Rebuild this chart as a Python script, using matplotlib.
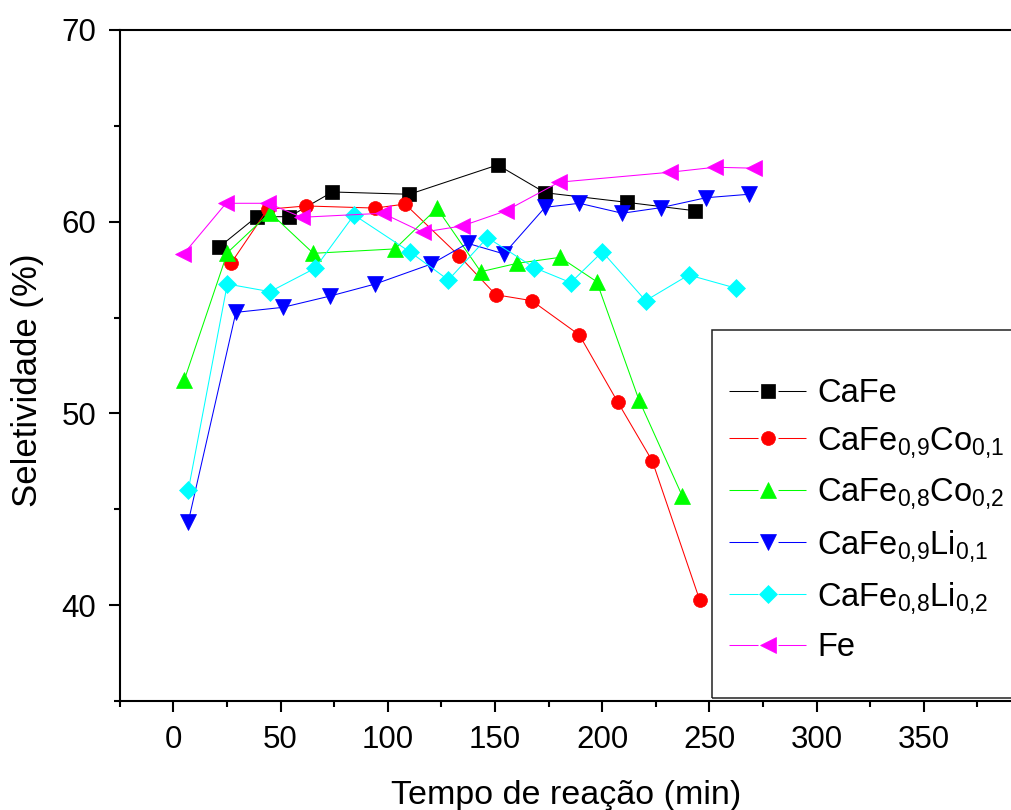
import matplotlib
matplotlib.use('Agg')
import matplotlib.pyplot as plt
from matplotlib.lines import Line2D
from matplotlib.legend_handler import HandlerTuple
from matplotlib.patches import Rectangle
from matplotlib.ticker import MultipleLocator

plt.rcParams['font.family'] = ['Liberation Sans', 'DejaVu Sans']
plt.rcParams['mathtext.fontset'] = 'custom'
plt.rcParams['mathtext.rm'] = 'Liberation Sans'
plt.rcParams['mathtext.it'] = 'Liberation Sans:italic'

# ----- data (time in min, selectivity in %)
cafe_t = [21.2, 38.9, 54.1, 74.2, 110.1, 151.3, 173.4, 211.5, 243.3]
cafe_s = [58.66, 60.26, 60.26, 61.55, 61.43, 62.96, 61.51, 61.01, 60.57]

co01_t = [26.9, 44.0, 61.9, 94.1, 108.1, 133.2, 150.4, 167.2, 189.4, 207.3, 223.4, 245.5]
co01_s = [57.83, 60.65, 60.82, 60.71, 60.92, 58.23, 56.19, 55.88, 54.09, 50.59, 47.52, 40.27]

co02_t = [5.1, 25.2, 45.1, 65.3, 103.4, 123.0, 143.4, 160.4, 180.4, 197.5, 217.2, 237.4]
co02_s = [51.73, 58.38, 60.47, 58.35, 58.58, 60.70, 57.39, 57.83, 58.14, 56.87, 50.70, 45.69]

li01_t = [7.0, 29.2, 51.0, 73.1, 94.2, 120.3, 137.3, 154.2, 173.4, 189.4, 209.4, 227.3, 248.5, 268.5]
li01_s = [44.35, 55.27, 55.53, 56.12, 56.75, 57.79, 58.87, 58.32, 60.75, 60.96, 60.44, 60.73, 61.25, 61.43]

li02_t = [7.0, 25.2, 45.1, 66.1, 84.3, 110.3, 128.3, 146.5, 168.4, 185.4, 200.1, 220.3, 240.4, 262.5]
li02_s = [46.0, 56.75, 56.35, 57.57, 60.35, 58.43, 56.96, 59.17, 57.60, 56.82, 58.43, 55.88, 57.22, 56.53]

fe_t = [4.7, 24.6, 44.3, 59.9, 97.7, 116.3, 134.8, 155.0, 179.9, 231.7, 252.7, 270.9]
fe_s = [58.30, 60.96, 60.96, 60.23, 60.44, 59.45, 59.78, 60.56, 62.06, 62.58, 62.84, 62.79]

labels = ['CaFe',
          r'CaFe$_{\mathregular{0{,}9}}$Co$_{\mathregular{0{,}1}}$',
          r'CaFe$_{\mathregular{0{,}8}}$Co$_{\mathregular{0{,}2}}$',
          r'CaFe$_{\mathregular{0{,}9}}$Li$_{\mathregular{0{,}1}}$',
          r'CaFe$_{\mathregular{0{,}8}}$Li$_{\mathregular{0{,}2}}$',
          'Fe']

series = [(cafe_t, cafe_s), (co01_t, co01_s), (co02_t, co02_s),
          (li01_t, li01_s), (li02_t, li02_s), (fe_t, fe_s)]
colours = ['#000000', '#FF0000', '#00FF00', '#0000FF', '#00FFFF', '#FF00FF']
markers = ['s', 'o', '^', 'v', 'D', '<']
sizes = [9.5, 10, 12, 12, 9, 12]

fig = plt.figure(figsize=(10.11, 8.10), dpi=100)
# axes run up to the right edge of the picture, as in the original
ax = fig.add_axes([0.1184, 0.1346, 0.8822, 0.8284])

lw = 0.75
for (t, s), c, m, ms in zip(series, colours, markers, sizes):
    ax.plot(t, s, color=c, lw=lw, marker=m, ms=ms, mec=c, mfc=c, mew=0.5)

ax.set_xlim(-25, 391)
ax.set_ylim(35, 70)
ax.xaxis.set_major_locator(MultipleLocator(50))
ax.xaxis.set_minor_locator(MultipleLocator(25))
ax.yaxis.set_major_locator(MultipleLocator(10))
ax.yaxis.set_minor_locator(MultipleLocator(5))

for side in ['left', 'bottom', 'top']:
    ax.spines[side].set_linewidth(1.5)
ax.spines['right'].set_visible(False)
ax.tick_params(which='major', direction='out', length=8, width=1.5,
               labelsize=22.5, pad=9)
ax.tick_params(which='minor', direction='out', length=4, width=1.5)
ax.tick_params(top=False, right=False)

ax.set_xlabel('Tempo de reação (min)', fontsize=24.5, labelpad=18)
ax.set_ylabel('Seletividade (%)', fontsize=25)
ax.yaxis.set_label_coords(-0.0853, 0.478)

# legend with line - marker - line handles
fs_leg = 23.5
fs_px = fs_leg * 100 / 72
handles = []
for c, m, ms in zip(colours, markers, sizes):
    ln = Line2D([], [], color=c, lw=lw, dashes=(20.9 / lw, 14.4 / lw))
    mk = Line2D([], [], ls='none', marker=m, ms=ms, color=c, mec=c, mew=0.5)
    handles.append((ln, mk))

fig.patches.append(Rectangle((712 / 1011, 1 - 698 / 810), 0.4, 368 / 810,
                             transform=fig.transFigure, fill=False,
                             ec='#222222', lw=1.1, zorder=3))
leg = fig.legend(handles, labels, loc='upper left',
                 bbox_to_anchor=(729 / 1011, 1 - 378 / 810),
                 bbox_transform=fig.transFigure, frameon=False,
                 borderpad=0, borderaxespad=0, fontsize=fs_leg,
                 handlelength=77 / fs_px, handletextpad=11 / fs_px,
                 labelspacing=0.5, numpoints=1,
                 handler_map={tuple: HandlerTuple(ndivide=1, pad=0)})

fig.savefig('out.png', dpi=100)
